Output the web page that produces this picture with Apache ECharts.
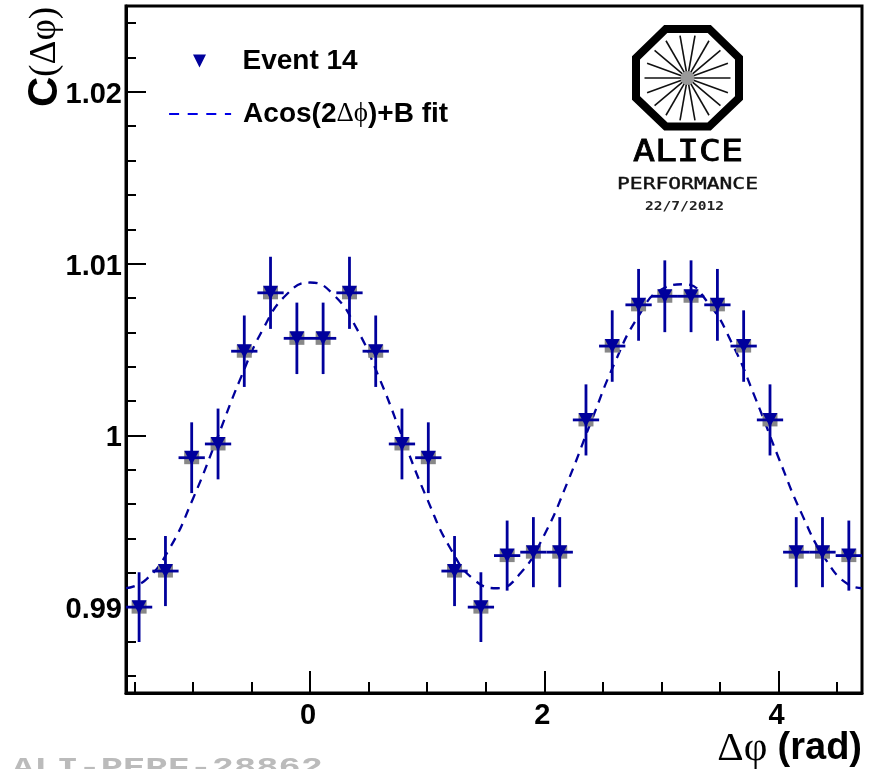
<!DOCTYPE html>
<html>
<head>
<meta charset="utf-8">
<style>html,body{margin:0;padding:0;background:#fff;overflow:hidden}#c{width:875px;height:769px}</style>
<script src="https://cdn.jsdelivr.net/npm/echarts@6/dist/echarts.min.js"></script>
</head>
<body>
<div id="c"></div>
<script>
const binCenters = [-1.459,-1.234,-1.010,-0.785,-0.561,-0.337,-0.112,0.112,0.337,0.561,0.785,1.010,1.234,1.459,1.683,1.907,2.132,2.356,2.580,2.805,3.029,3.253,3.478,3.702,3.927,4.151,4.375,4.600];
const eventValues = [0.9900,0.9921,0.9987,0.9995,1.0049,1.0083,1.00565,1.00565,1.0083,1.0049,0.9995,0.9987,0.9921,0.9900,0.9930,0.9932,0.9932,1.0009,1.0052,1.0076,1.0081,1.0081,1.0076,1.0052,1.0009,0.9932,0.9932,0.9930];
const errorsY = [0.00203,0.00204,0.00206,0.00206,0.00208,0.0021,0.00208,0.00208,0.0021,0.00208,0.00206,0.00206,0.00204,0.00203,0.00204,0.00204,0.00204,0.00207,0.00208,0.00209,0.00209,0.00209,0.00209,0.00208,0.00207,0.00204,0.00204,0.00204];
const binHalfWidth = 0.1122;
const fitX = [-1.57,-1.4,-1.2,-1.0,-0.8,-0.6,-0.4,-0.2,0,0.2,0.4,0.6,0.8,1.0,1.2,1.4,1.6,1.8,2.0,2.2,2.4,2.6,2.8,3.0,3.2,3.4,3.6,3.8,4.0,4.2,4.4,4.6,4.71];
const fitY = [0.9911,0.9916,0.9934,0.9963,0.9997,1.0032,1.0062,1.0082,1.0089,1.0082,1.0062,1.0032,0.9997,0.9963,0.9934,0.9916,0.9911,0.9920,0.9942,0.9973,1.0008,1.0042,1.0069,1.0085,1.0088,1.0077,1.0054,1.0022,0.9987,0.9954,0.9928,0.9913,0.9911];
const xMajorTicks = [0,2,4];
const xMinorTicks = [-1.5,-1,-0.5,0.5,1,1.5,2.5,3,3.5,4.5];
const yMajorTicks = [0.99,1,1.01,1.02];
const yMinorTicks = [0.986,0.988,0.992,0.994,0.996,0.998,1.002,1.004,1.006,1.008,1.012,1.014,1.016,1.018,1.022,1.024];

const NAVY = '#00009c';
const SANS = '"Liberation Sans", Arial, sans-serif';
const SERIF = '"Liberation Serif", serif';
const MONO = '"DejaVu Sans Mono", monospace';
const points = binCenters.map((x,i)=>[x,eventValues[i],errorsY[i]]);
const fitPoints = fitX.map((x,i)=>[x,fitY[i]]);
const logoCx = 687.5, logoCy = 78;
const spokes = [];
for (let a=0;a<360;a+=20){
  const r=a*Math.PI/180;
  spokes.push({type:'line',z:21,silent:true,
    shape:{x1:logoCx+5*Math.cos(r),y1:logoCy+5*Math.sin(r),x2:logoCx+43*Math.cos(r),y2:logoCy+43*Math.sin(r)},
    style:{stroke:'#111',lineWidth:1.6}});
}
const chart = echarts.init(document.getElementById('c'),null,{renderer:'canvas'});
function tickAxis(extra){return Object.assign({type:'value',splitLine:{show:false},minorTick:{show:false},minorSplitLine:{show:false}},extra);}
chart.setOption({
  animation:false,
  backgroundColor:'#fff',
  grid:{left:126,right:13,top:6,bottom:76,show:true,borderColor:'#000',borderWidth:3,backgroundColor:'transparent'},
  xAxis:[
    tickAxis({min:-Math.PI/2,max:3*Math.PI/2,position:'bottom',
      axisLine:{show:true,onZero:false,lineStyle:{color:'#000',width:3}},
      axisTick:{show:true,inside:true,length:22,customValues:xMajorTicks,lineStyle:{color:'#000',width:2}},
      axisLabel:{show:true,customValues:xMajorTicks,margin:8,padding:[0,4,0,0],color:'#000',fontFamily:SANS,fontWeight:'bold',fontSize:29}}),
    tickAxis({min:-Math.PI/2,max:3*Math.PI/2,position:'bottom',
      axisLine:{show:false,onZero:false},
      axisTick:{show:true,inside:true,length:11,customValues:xMinorTicks,lineStyle:{color:'#000',width:2}},
      axisLabel:{show:false}})
  ],
  yAxis:[
    tickAxis({min:0.985,max:1.025,position:'left',
      axisLine:{show:true,onZero:false,lineStyle:{color:'#000',width:3}},
      axisTick:{show:true,inside:true,length:20,customValues:yMajorTicks,lineStyle:{color:'#000',width:2}},
      axisLabel:{show:true,customValues:yMajorTicks,margin:4,verticalAlign:'top',lineHeight:6,color:'#000',fontFamily:SANS,fontWeight:'bold',fontSize:29,
        formatter:v=>String(+v.toFixed(3))}}),
    tickAxis({min:0.985,max:1.025,position:'left',
      axisLine:{show:false,onZero:false},
      axisTick:{show:true,inside:true,length:10,customValues:yMinorTicks,lineStyle:{color:'#000',width:2}},
      axisLabel:{show:false}})
  ],
  legend:[
    {data:[{name:'Event 14',icon:'path://M0,0L10,0L5,10Z'}],selectedMode:false,orient:'vertical',left:188,top:42,itemWidth:14,itemHeight:13,
      textStyle:{fontFamily:SANS,fontWeight:'bold',fontSize:28,color:'#000',padding:[5,0,0,31]}},
    {data:['Acos(2Δϕ)+B fit'],selectedMode:false,orient:'vertical',left:163,top:95,itemWidth:62,itemHeight:14,
      itemStyle:{opacity:0},
      lineStyle:{color:'#0000e6',width:2.2,type:[10,8.6]},
      formatter:()=>'{a|Acos(2}{b|Δϕ}{a|)+B fit}',
      textStyle:{padding:[0,0,0,7],rich:{
        a:{fontFamily:SANS,fontWeight:'bold',fontSize:28,color:'#000'},
        b:{fontFamily:SERIF,fontSize:27,color:'#000'}}}}
  ],
  series:[
    {name:'Acos(2Δϕ)+B fit',type:'line',data:fitPoints,smooth:true,showSymbol:false,symbol:'none',z:3,
      lineStyle:{color:NAVY,width:2.3,type:[9,7]}},
    {name:'bin',type:'scatter',data:points,symbol:'rect',symbolSize:[15,13],itemStyle:{color:'#888',opacity:1},z:4,silent:true},
    {name:'errors',type:'custom',data:points,z:5,silent:true,clip:false,
      encode:{x:0,y:1},
      renderItem:(p,api)=>{
        const x=api.value(0),y=api.value(1),e=api.value(2);
        const c=api.coord([x,y]),t=api.coord([x,y+e]),b=api.coord([x,y-e]);
        const l=api.coord([x-binHalfWidth,y]),r=api.coord([x+binHalfWidth,y]);
        const style={stroke:NAVY,lineWidth:2.8,fill:null};
        return {type:'group',children:[
          {type:'line',shape:{x1:c[0],y1:t[1],x2:c[0],y2:b[1]},style},
          {type:'line',shape:{x1:l[0],y1:c[1],x2:r[0],y2:c[1]},style}
        ]};
      }},
    {name:'Event 14',type:'scatter',data:points,symbol:'path://M0,0L10,0L5,10Z',symbolSize:[15,14],itemStyle:{color:NAVY,opacity:1},z:6,silent:true}
  ],
  graphic:[
    {type:'text',z:20,silent:true,x:45,y:57,rotation:Math.PI/2,
      style:{text:'{a|C}{b|(Δφ)}',align:'center',verticalAlign:'middle',
        rich:{a:{font:'bold 42px '+SANS,fill:'#000'},b:{font:'37px '+SERIF,fill:'#000'}}}},
    {type:'text',z:20,silent:true,x:862,y:749,
      style:{text:'{b|Δφ }{a|(rad)}',align:'right',verticalAlign:'middle',
        rich:{a:{font:'bold 38px '+SANS,fill:'#000'},b:{font:'41px '+SERIF,fill:'#000'}}}},
    {type:'text',z:20,silent:true,x:12,y:756,scaleY:0.7,
      style:{text:'ALI-PERF-28862',font:'bold 37px "Liberation Mono", monospace',fill:'#bbb',align:'left',verticalAlign:'top'}},
    {type:'polygon',z:20,silent:true,
      shape:{points:[[665.8,29],[709.2,29],[739,58],[739,98],[709.2,126.5],[665.8,126.5],[636,98],[636,58]]},
      style:{fill:'#fff',stroke:'#000',lineWidth:8,lineJoin:'miter'}},
    ...spokes,
    {type:'circle',z:22,silent:true,shape:{cx:logoCx,cy:logoCy,r:7},style:{fill:'#999'}},
    {type:'text',z:21,silent:true,x:688,y:153,scaleX:1.18,
      style:{text:'ALICE',font:'31px '+MONO,fill:'#000',stroke:'#000',lineWidth:0.8,align:'center',verticalAlign:'middle'}},
    {type:'text',z:21,silent:true,x:687.5,y:185,scaleX:1.29,
      style:{text:'PERFORMANCE',font:'16.5px '+MONO,fill:'#111',stroke:'#111',lineWidth:0.4,align:'center',verticalAlign:'middle'}},
    {type:'text',z:21,silent:true,x:684.5,y:207,scaleX:1.12,
      style:{text:'22/7/2012',font:'bold 13px '+MONO,fill:'#222',align:'center',verticalAlign:'middle'}}
  ]
});
</script>
</body>
</html>
